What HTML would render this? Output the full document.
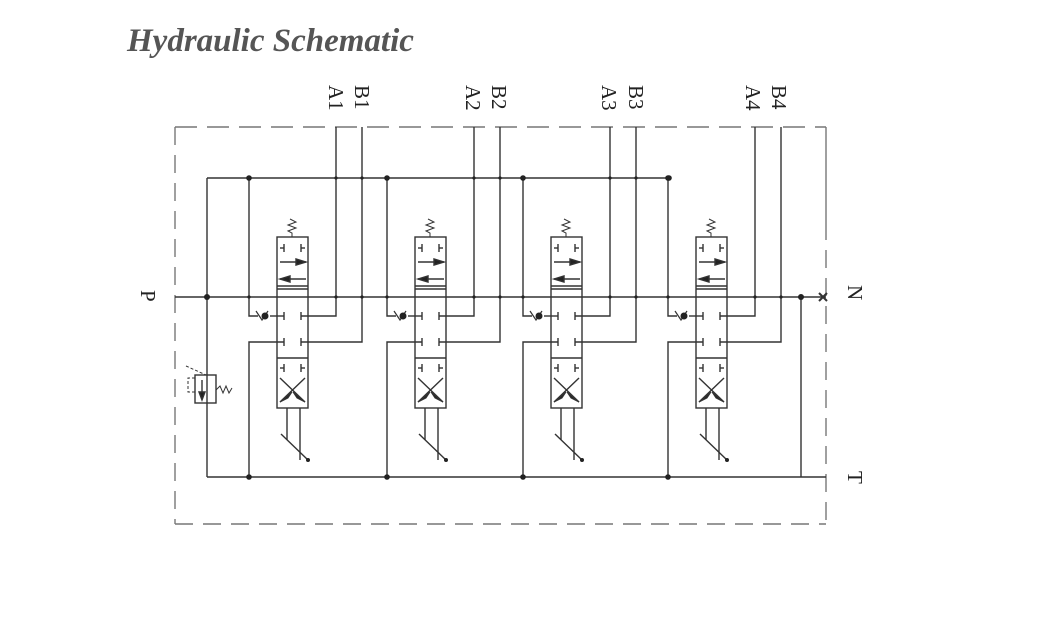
<!DOCTYPE html>
<html><head><style>
html,body{margin:0;padding:0;background:#fff;}
svg{display:block;}
</style></head><body>
<svg width="1039" height="639" viewBox="0 0 1039 639" xmlns="http://www.w3.org/2000/svg">
<defs>
<g id="valve" stroke="#333" stroke-width="1.4" fill="none">
  <rect x="277" y="237" width="31" height="171"/>
  <line x1="277" y1="286" x2="308" y2="286"/>
  <line x1="277" y1="289" x2="308" y2="289"/>
  <line x1="277" y1="358" x2="308" y2="358"/>
  <polyline points="292,237 292,233 288,231 296,228 288,225 296,222 290,219" stroke-width="1"/>
  <line x1="284" y1="244" x2="284" y2="252"/><line x1="280" y1="248" x2="284" y2="248"/>
  <line x1="301" y1="244" x2="301" y2="252"/><line x1="301" y1="248" x2="305" y2="248"/>
  <line x1="280" y1="262" x2="306" y2="262"/>
  <polygon points="306,262 296,259 296,265" fill="#222"/>
  <line x1="280" y1="279" x2="306" y2="279"/>
  <polygon points="280,279 290,276 290,282" fill="#222"/>
  <line x1="284" y1="312" x2="284" y2="320"/><line x1="301" y1="312" x2="301" y2="320"/>
  <line x1="284" y1="338" x2="284" y2="346"/><line x1="301" y1="338" x2="301" y2="346"/>
  <line x1="284" y1="364" x2="284" y2="372"/><line x1="280" y1="368" x2="284" y2="368"/>
  <line x1="301" y1="364" x2="301" y2="372"/><line x1="301" y1="368" x2="305" y2="368"/>
  <line x1="280" y1="378" x2="305" y2="402"/>
  <line x1="305" y1="378" x2="280" y2="402"/>
  <polygon points="280,402 292,392 288,398" fill="#222" stroke-width="1"/>
  <polygon points="305,402 293,392 297,398" fill="#222" stroke-width="1"/>
  <polyline points="249,178 249,316 258,316"/>
  <polyline points="270,316 284,316"/>
  <polyline points="301,316 336,316 336,127"/>
  <polyline points="249,477 249,342 284,342"/>
  <polyline points="301,342 362,342 362,127"/>
  <polyline points="256,311 262,320 268,311" stroke-width="1.2"/>
  <circle cx="265" cy="316" r="3.5" fill="#222" stroke="none"/>
  <line x1="287" y1="408" x2="287" y2="440"/>
  <line x1="300" y1="408" x2="300" y2="460"/>
  <line x1="281" y1="434" x2="308" y2="460"/>
  <circle cx="308" cy="460" r="2" fill="#222" stroke="none"/>
  <circle cx="249" cy="178" r="2.8" fill="#222" stroke="none"/>
  <circle cx="249" cy="477" r="2.8" fill="#222" stroke="none"/>
  <circle cx="336" cy="297" r="1.6" fill="#222" stroke="none"/>
  <circle cx="362" cy="297" r="1.6" fill="#222" stroke="none"/>
  <circle cx="249" cy="297" r="1.6" fill="#222" stroke="none"/>
</g>
<g id="topdots" fill="#222">
  <circle cx="336" cy="178" r="1.6"/>
  <circle cx="362" cy="178" r="1.6"/>
</g>
</defs>

<text x="127" y="51" font-family="Liberation Serif, serif" font-size="33" font-weight="bold" font-style="italic" fill="#555">Hydraulic Schematic</text>

<g stroke="#777" stroke-width="1.4" fill="none">
  <line x1="175" y1="127" x2="175" y2="524" stroke-dasharray="18,10"/>
  <line x1="175" y1="524" x2="826" y2="524" stroke-dasharray="18,10"/>
  <line x1="175" y1="127" x2="826" y2="127" stroke-dasharray="22,10"/>
  <line x1="826" y1="127" x2="826" y2="222"/>
  <line x1="826" y1="222" x2="826" y2="524" stroke-dasharray="18,10"/>
</g>

<g stroke="#333" stroke-width="1.4" fill="none">
  <line x1="207" y1="178" x2="669" y2="178"/>
  <line x1="175" y1="297" x2="826" y2="297"/>
  <line x1="207" y1="477" x2="826" y2="477"/>
  <line x1="207" y1="178" x2="207" y2="477"/>
  <line x1="801" y1="297" x2="801" y2="477"/>
  <line x1="819" y1="293" x2="827" y2="301" stroke-width="2"/>
  <line x1="827" y1="293" x2="819" y2="301" stroke-width="2"/>
  <rect x="195" y="375" width="21" height="28"/>
  <line x1="202" y1="380" x2="202" y2="398"/>
  <polygon points="202,400 199,392 205,392" fill="#222"/>
  <polyline points="216,390 220,386 223,393 226,386 229,393 232,388" stroke-width="1"/>
  <polyline points="195,392 188,392 188,378 195,378" stroke-dasharray="3,2" stroke-width="1"/>
  <line x1="186" y1="366" x2="206" y2="375" stroke-width="1" stroke-dasharray="3,2"/>
</g>
<circle cx="207" cy="297" r="3" fill="#222"/>
<circle cx="801" cy="297" r="3" fill="#222"/>
<circle cx="669" cy="178" r="2.8" fill="#222"/>

<use href="#valve"/>
<use href="#valve" transform="translate(138,0)"/>
<use href="#valve" transform="translate(274,0)"/>
<use href="#valve" transform="translate(419,0)"/>
<use href="#topdots"/>
<use href="#topdots" transform="translate(138,0)"/>
<use href="#topdots" transform="translate(274,0)"/>

<g font-family="Liberation Serif, serif" font-size="21" fill="#222">
  <text transform="translate(329,85) rotate(90)">A1</text>
  <text transform="translate(355,85) rotate(90)">B1</text>
  <text transform="translate(466,85) rotate(90)">A2</text>
  <text transform="translate(492,85) rotate(90)">B2</text>
  <text transform="translate(602,85) rotate(90)">A3</text>
  <text transform="translate(629,85) rotate(90)">B3</text>
  <text transform="translate(746,85) rotate(90)">A4</text>
  <text transform="translate(772,85) rotate(90)">B4</text>
  <text transform="translate(141,290) rotate(90)">P</text>
  <text transform="translate(848,285) rotate(90)">N</text>
  <text transform="translate(848,471) rotate(90)">T</text>
</g>
</svg>
</body></html>
